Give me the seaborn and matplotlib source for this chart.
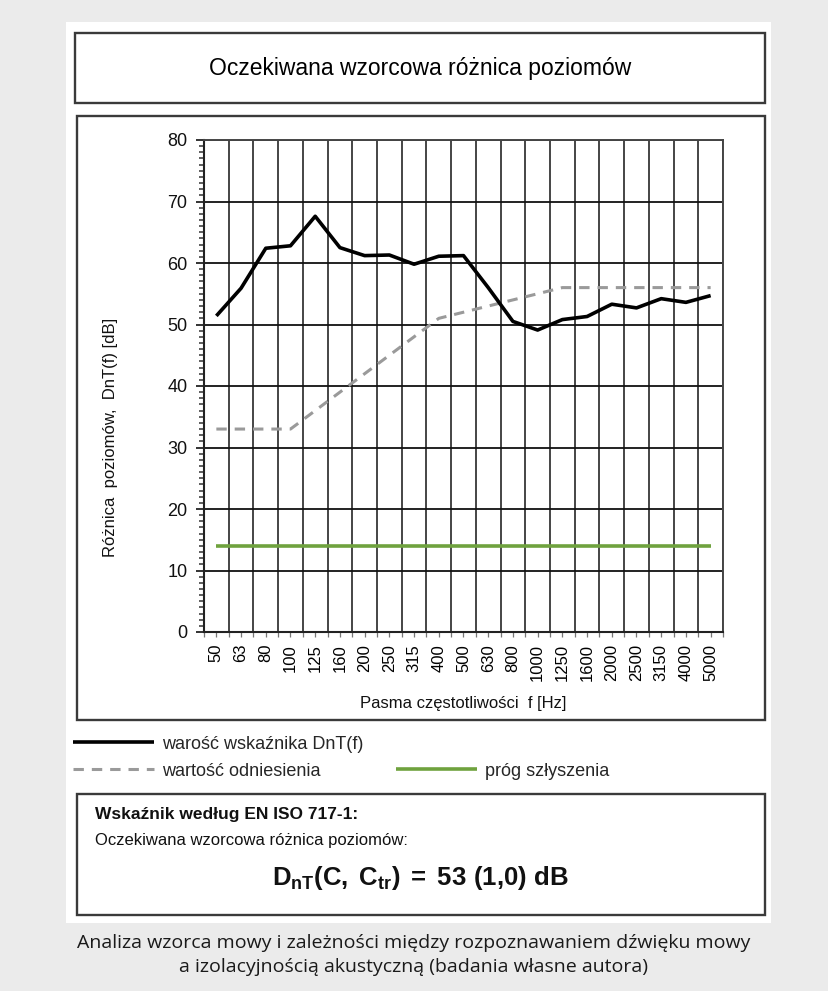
import numpy as np
import pandas as pd
import matplotlib
matplotlib.use("Agg")
import matplotlib.pyplot as plt
from matplotlib.lines import Line2D
from matplotlib.patches import Rectangle
from matplotlib.ticker import MultipleLocator
import seaborn as sns

# --- data -------------------------------------------------------------
pasma = ["50", "63", "80", "100", "125", "160", "200", "250", "315", "400",
         "500", "630", "800", "1000", "1250", "1600", "2000", "2500", "3150",
         "4000", "5000"]
dnt = [51.4, 55.9, 62.4, 62.8, 67.6, 62.5, 61.2, 61.3, 59.8, 61.1,
       61.2, 56.0, 50.5, 49.1, 50.8, 51.3, 53.3, 52.7, 54.2, 53.6, 54.7]
odniesienie = [33, 33, 33, 33, 36, 39, 42, 45, 48, 51,
               52, 53, 54, 55, 56, 56, 56, 56, 56, 56, 56]
prog = [14, 14, 14, 14, 14, 14, 14, 14, 14, 14,
        14, 14, 14, 14, 14, 14, 14, 14, 14, 14, 14]
y_ticks = [0, 10, 20, 30, 40, 50, 60, 70, 80]

etykiety = ["warość wskaźnika DnT(f)", "wartość odniesienia", "próg szłyszenia"]

df = pd.DataFrame({
    "pozycja": np.arange(len(pasma)),
    "pasmo": pasma,
    "dnt": dnt,
    "odniesienie": odniesienie,
    "prog": prog,
})

# --- style ------------------------------------------------------------
sns.set_theme(style="white")
plt.rcParams["font.family"] = ["Liberation Sans", "DejaVu Sans"]
plt.rcParams["mathtext.fontset"] = "custom"
plt.rcParams["mathtext.rm"] = "Liberation Sans:bold"
plt.rcParams["mathtext.bf"] = "Liberation Sans:bold"
plt.rcParams["mathtext.it"] = "Liberation Sans:bold"

W, H = 829, 991
fig = plt.figure(figsize=(W / 100, H / 100), dpi=100, facecolor="#ebebeb")


def fx(x):
    return x / W


def fy(y):
    return 1 - y / H


# page canvas in pixel units (top-left origin)
page = fig.add_axes([0, 0, 1, 1], zorder=0)
page.set_xlim(0, W)
page.set_ylim(H, 0)
page.axis("off")

edge = "#3a3a3a"
page.add_patch(Rectangle((66, 22), 705, 901, facecolor="white", edgecolor="none"))
for (x0, y0, x1, y1) in [(75, 33, 765, 103), (77, 116, 765, 720), (77, 794, 765, 915)]:
    page.add_patch(Rectangle((x0, y0), x1 - x0, y1 - y0, facecolor="white",
                             edgecolor=edge, linewidth=1.7))

page.text(420, 68, "Oczekiwana wzorcowa różnica poziomów", ha="center", va="center",
          fontsize=16.5, color="#000000")

# --- main chart -------------------------------------------------------
ax_l, ax_r, ax_t, ax_b = 204, 723, 140, 632
ax = fig.add_axes([fx(ax_l), fy(ax_b), fx(ax_r - ax_l), (ax_b - ax_t) / H], zorder=2)
ax.set_facecolor("white")

sns.lineplot(data=df, x="pozycja", y="prog", ax=ax, color="#6fa23e", linewidth=2.6,
             label=etykiety[2], zorder=3)
sns.lineplot(data=df, x="pozycja", y="odniesienie", ax=ax, color="#9a9a9a", linewidth=2.2,
             label=etykiety[1], zorder=4)
sns.lineplot(data=df, x="pozycja", y="dnt", ax=ax, color="#000000", linewidth=2.6,
             label=etykiety[0], zorder=5)
lines = ax.get_lines()
l_prog, l_ref, l_dnt = lines[0], lines[1], lines[2]
l_ref.set_linestyle((0, (3.4, 2.6)))
for ln in lines:
    ln.set_solid_capstyle("butt")
ax.get_legend().remove()

n = len(pasma)
ax.set_xlim(-0.5, n - 0.5)
ax.set_ylim(0, 80)
ax.set_xticks(np.arange(n))
ax.set_xticklabels(pasma, rotation=90, fontsize=12, color="#000000")
ax.set_xticks(np.arange(-0.5, n, 1), minor=True)
ax.set_yticks(y_ticks)
ax.set_yticklabels([str(v) for v in y_ticks], fontsize=13, color="#111111")
ax.yaxis.set_minor_locator(MultipleLocator(1))

ax.grid(False)
ax.grid(which="minor", axis="x", color="#454545", linewidth=1.4, zorder=1)
ax.grid(which="major", axis="y", color="#111111", linewidth=1.3, zorder=1)
ax.set_axisbelow(True)

ax.tick_params(axis="x", which="major", direction="out", length=3.5, width=0.9,
               color="#777777", pad=5, bottom=True)
ax.tick_params(axis="x", which="minor", direction="out", length=3.5, width=0.9,
               color="#777777", bottom=True)
ax.tick_params(axis="y", which="major", direction="out", length=6, width=1.2,
               color="#111111", pad=6, left=True)
ax.tick_params(axis="y", which="minor", direction="out", length=3.5, width=1.1,
               color="#333333", left=True)

for side in ["left", "bottom"]:
    ax.spines[side].set_color("#222222")
    ax.spines[side].set_linewidth(1.5)
for side in ["top", "right"]:
    ax.spines[side].set_color("#454545")
    ax.spines[side].set_linewidth(1.4)

ax.set_xlabel("Pasma częstotliwości  f [Hz]", fontsize=12, color="#111111", labelpad=11)
ax.set_ylabel("Różnica  poziomów,  DnT(f) [dB]", fontsize=12, color="#111111")
ax.yaxis.set_label_coords(-0.165, (ax_b - 437) / (ax_b - ax_t))

# --- legend below the chart box --------------------------------------
blank = Line2D([], [], color="none")
fig.legend(handles=[l_dnt, l_ref, blank, l_prog],
           labels=[etykiety[0], etykiety[1], "", etykiety[2]],
           ncol=2, loc="upper left", bbox_to_anchor=(fx(60), fy(723)),
           frameon=False, fontsize=13, handlelength=4.5, handletextpad=0.45,
           columnspacing=1.8, labelspacing=0.55, borderpad=0.2)

# --- summary box ------------------------------------------------------
page.text(95, 815, "Wskaźnik według EN ISO 717-1:", ha="left", va="center",
          fontsize=12.5, fontweight="bold", color="#111111")
page.text(95, 841, "Oczekiwana wzorcowa różnica poziomów:", ha="left", va="center",
          fontsize=12, color="#111111")
page.text(420, 878, r"$\mathbf{D_{nT}(C,\;C_{tr})\;=\;53\ (1{,}0)\ dB}$", ha="center",
          va="center", fontsize=18.5, color="#111111")

# --- caption ----------------------------------------------------------
cap_font = ["Open Sans", "DejaVu Sans"]
page.text(414, 943, "Analiza wzorca mowy i zależności między rozpoznawaniem dźwięku mowy",
          ha="center", va="center", fontsize=14, color="#1a1a1a", family=cap_font)
page.text(414, 967, "a izolacyjnością akustyczną (badania własne autora)",
          ha="center", va="center", fontsize=14, color="#1a1a1a", family=cap_font)

fig.savefig("out.png", dpi=100, facecolor=fig.get_facecolor())
